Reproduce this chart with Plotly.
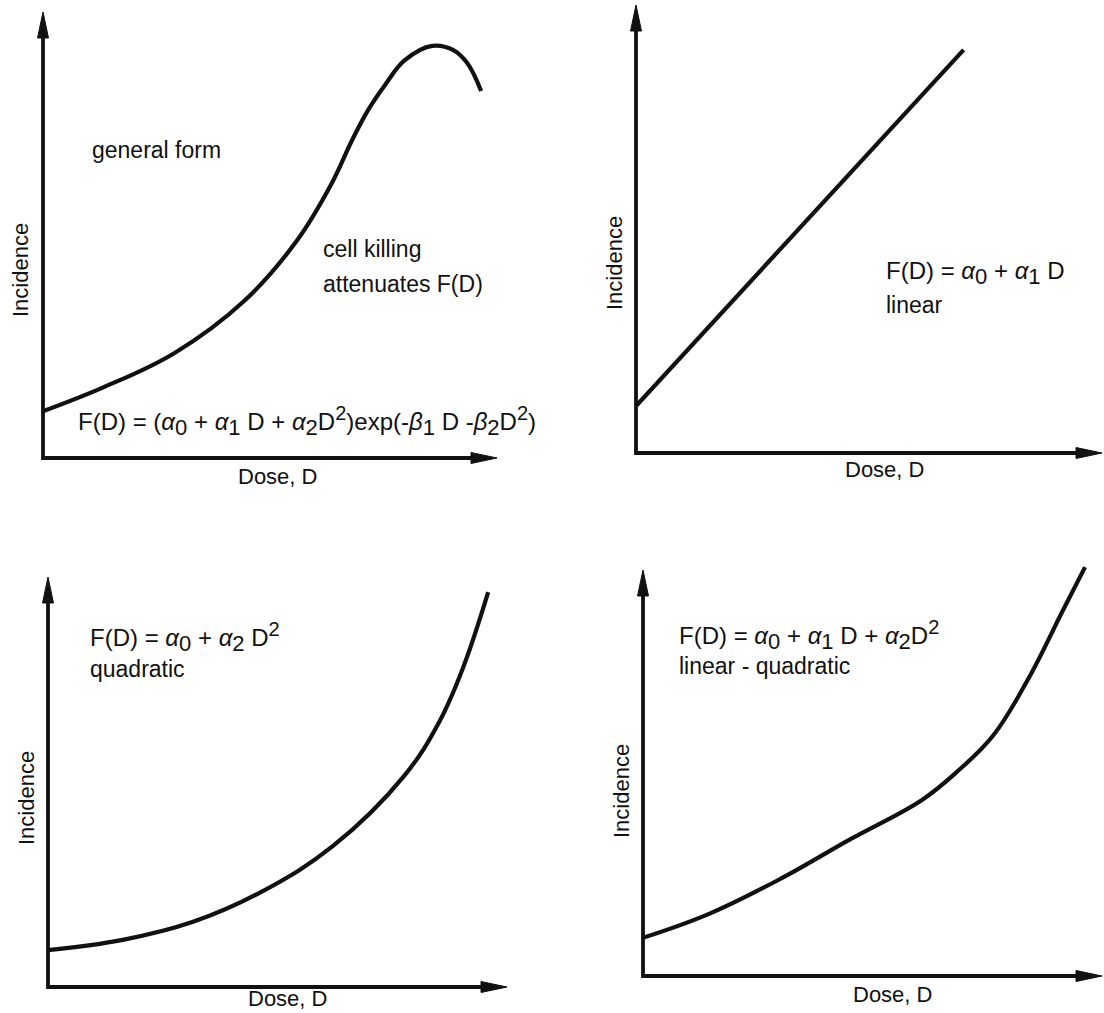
import plotly.graph_objects as go

W, H = 1104, 1013

# ---------------- data (relative units: 0..1 along each drawn axis arrow) ----------------
general_dose = [0.0, 0.134, 0.289, 0.443, 0.559, 0.634, 0.681, 0.716, 0.753, 0.797,
                0.857, 0.903, 0.934, 0.965]
general_inc = [0.105, 0.159, 0.235, 0.352, 0.487, 0.612, 0.713, 0.780, 0.836, 0.892,
               0.924, 0.915, 0.886, 0.823]

linear_dose = [0.0, 0.703]
linear_inc = [0.105, 0.900]

quad_dose = [0.0, 0.163, 0.316, 0.468, 0.621, 0.776, 0.852, 0.904, 0.959]
quad_inc = [0.090, 0.115, 0.159, 0.234, 0.344, 0.515, 0.646, 0.778, 0.963]

lq_dose = [0.0, 0.144, 0.299, 0.452, 0.607, 0.683, 0.762, 0.838, 0.915, 0.963]
lq_inc = [0.094, 0.153, 0.239, 0.337, 0.433, 0.502, 0.591, 0.729, 0.901, 1.007]

x_label = "Dose, D"
y_label = "Incidence"

# ---------------- panel geometry (pixels: origin x, origin y, x-arrow tip, y-arrow tip) ----------------
panels = [
    dict(ox=43, oy=458, xt=497, yt=12),
    dict(ox=636, oy=453, xt=1102, yt=5),
    dict(ox=48, oy=987, xt=507, yt=577),
    dict(ox=643, oy=976, xt=1102, yt=570),
]
series = [
    (general_dose, general_inc, "spline"),
    (linear_dose, linear_inc, "linear"),
    (quad_dose, quad_inc, "spline"),
    (lq_dose, lq_inc, "spline"),
]

FONT = "Liberation Sans, Arial, sans-serif"
INK = "#111111"
PAD = 28
FS = 23
FF = 24  # formula size

fig = go.Figure()
shapes = []
annotations = []


def px2paper(x, y):
    return x / W, 1 - y / H


for i, (p, (xs, ys, shp)) in enumerate(zip(panels, series)):
    sfx = "" if i == 0 else str(i + 1)
    xname, yname = "x" + sfx, "y" + sfx
    ox, oy, xt, yt = p["ox"], p["oy"], p["xt"], p["yt"]
    xspan, yspan = xt - ox, oy - yt
    d0 = max(ox - PAD, 0)
    d1 = min(xt + PAD, W)
    dtop = max(yt - PAD, 0)
    dbot = min(oy + PAD, H)
    xr = [-(ox - d0) / xspan, 1 + (d1 - xt) / xspan]
    yr = [-(dbot - oy) / yspan, 1 + (yt - dtop) / yspan]
    fig.update_layout(**{
        "xaxis" + sfx: dict(domain=[d0 / W, d1 / W], range=xr, visible=False,
                            fixedrange=True, anchor=yname),
        "yaxis" + sfx: dict(domain=[1 - dbot / H, 1 - dtop / H], range=yr, visible=False,
                            fixedrange=True, anchor=xname),
    })
    fig.add_trace(go.Scatter(
        x=xs, y=ys, mode="lines", xaxis=xname, yaxis=yname, showlegend=False,
        line=dict(color=INK, width=4.2, shape=shp, smoothing=1.1), hoverinfo="skip"))
    # axes drawn as arrows
    xend = 1 - 12 / xspan
    yend = 1 - 12 / yspan
    shapes.append(dict(type="path", xref=xname, yref=yname,
                       path=f"M {xend},0 L 0,0 L 0,{yend}",
                       line=dict(color=INK, width=3.8)))
    shapes.append(dict(type="path", xref=xname, yref=yname, xsizemode="pixel",
                       ysizemode="pixel", xanchor=1, yanchor=0,
                       path="M 0,0 L -26,5.5 L -26,-5.5 Z", fillcolor=INK,
                       line=dict(color=INK, width=1)))
    shapes.append(dict(type="path", xref=xname, yref=yname, xsizemode="pixel",
                       ysizemode="pixel", xanchor=0, yanchor=1,
                       path="M 0,0 L -5.5,-26 L 5.5,-26 Z", fillcolor=INK,
                       line=dict(color=INK, width=1)))


def note(text, x, y, size=FS, anchor="left", angle=0):
    px, py = px2paper(x, y)
    annotations.append(dict(text=text, x=px, y=py, xref="paper", yref="paper",
                            xanchor=anchor, yanchor="middle", showarrow=False,
                            textangle=angle, font=dict(family=FONT, size=size, color=INK)))


def sub(t):
    return f'<sub><span style="font-size:22px">{t}</span></sub>'


def sup(t):
    return f'<sup><span style="font-size:20px">{t}</span></sup>'


a = "<i>α</i>"
b = "<i>β</i>"

# panel 1 texts
note("general form", 90, 150)
note("cell killing", 321, 249)
note("attenuates F(D)", 321, 284)
note(f"F(D) = ({a}{sub(0)} + {a}{sub(1)} D + {a}{sub(2)}D{sup(2)})exp(-{b}{sub(1)} D -{b}{sub(2)}D{sup(2)})",
     76, 421, size=FF)
# panel 2 texts
note(f"F(D) = {a}{sub(0)} + {a}{sub(1)} D", 884, 273, size=FF)
note("linear", 884, 305)
# panel 3 texts
note(f"F(D) = {a}{sub(0)} + {a}{sub(2)} D{sup(2)}", 88, 637, size=FF)
note("quadratic", 88, 669)
# panel 4 texts
note(f"F(D) = {a}{sub(0)} + {a}{sub(1)} D + {a}{sub(2)}D{sup(2)}", 677, 635, size=FF)
note("linear - quadratic", 677, 666)

# axis labels
for (lx, ly), (ix, iy) in zip([(277, 476), (884, 470), (287, 998), (892, 994)],
                              [(20, 270), (614, 263), (26, 798), (621, 791)]):
    note(x_label, lx, ly, size=22, anchor="center")
    note(y_label, ix, iy, size=22, anchor="center", angle=-90)

fig.update_layout(
    width=W, height=H, margin=dict(l=0, r=0, t=0, b=0),
    paper_bgcolor="white", plot_bgcolor="rgba(0,0,0,0)",
    shapes=shapes, annotations=annotations, showlegend=False,
)

fig.write_html("out.html")
